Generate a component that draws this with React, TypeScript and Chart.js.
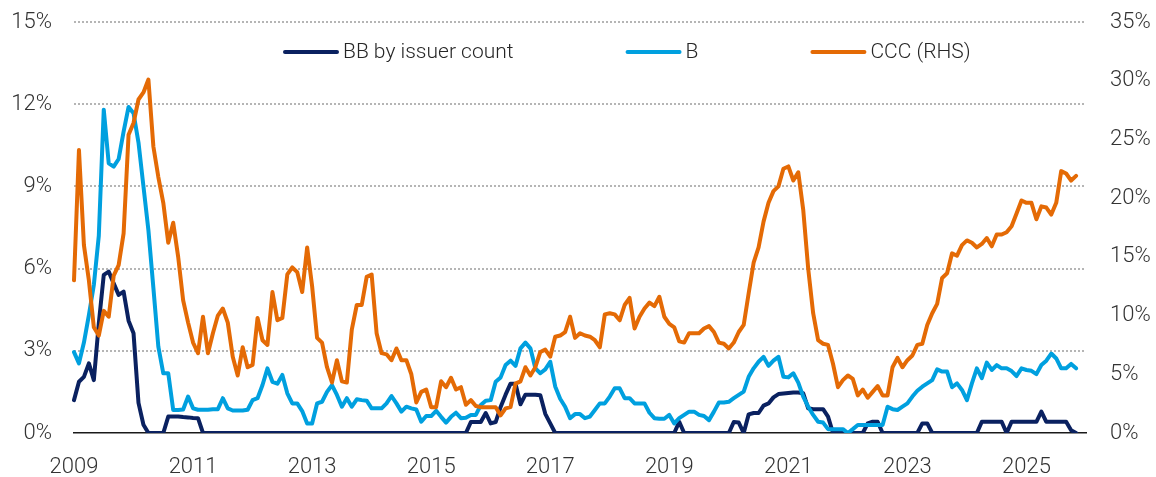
import React, { useEffect, useRef } from 'react';
import { Chart, registerables } from 'chart.js';

Chart.register(...registerables);

// ---- data (monthly, Jan 2009 onwards) ----
const START_YEAR = 2009;
const MONTHS_ON_AXIS = 205; // Jan 2009 .. Jan 2026
const yearTicks = ['2009', '2011', '2013', '2015', '2017', '2019', '2021', '2023', '2025'];

const seriesNames = ['BB by issuer count', 'B', 'CCC (RHS)'];
const seriesColors = ['#0a2160', '#00a0df', '#e46a05'];

const bbByIssuerCount = [
  1.2, 1.87, 2.05, 2.54, 1.93, 4.0, 5.77, 5.89, 5.46, 5.04, 5.16, 4.1,
  3.64, 1.1, 0.3, 0, 0, 0, 0, 0.6, 0.6, 0.6, 0.58, 0.57,
  0.55, 0.54, 0, 0, 0, 0, 0, 0, 0, 0, 0, 0,
  0, 0, 0, 0, 0, 0, 0, 0, 0, 0, 0, 0,
  0, 0, 0, 0, 0, 0, 0, 0, 0, 0, 0, 0,
  0, 0, 0, 0, 0, 0, 0, 0, 0, 0, 0, 0,
  0, 0, 0, 0, 0, 0, 0, 0, 0.4, 0.4, 0.4, 0.73,
  0.35, 0.4, 0.95, 1.4, 1.8, 1.8, 1.05, 1.4, 1.4, 1.4, 1.38, 0.7,
  0.35, 0, 0, 0, 0, 0, 0, 0, 0, 0, 0, 0,
  0, 0, 0, 0, 0, 0, 0, 0, 0, 0, 0, 0,
  0, 0, 0.41, 0, 0, 0, 0, 0, 0, 0, 0, 0,
  0, 0.4, 0.38, 0, 0.68, 0.73, 0.73, 1.0, 1.08, 1.3, 1.42, 1.44,
  1.46, 1.48, 1.48, 1.45, 0.9, 0.87, 0.87, 0.87, 0.6, 0, 0, 0,
  0, 0, 0, 0, 0.35, 0.41, 0.41, 0, 0, 0, 0, 0,
  0, 0, 0, 0.35, 0.35, 0, 0, 0, 0, 0, 0, 0,
  0, 0, 0, 0.41, 0.41, 0.41, 0.41, 0.41, 0, 0.41, 0.41, 0.41,
  0.41, 0.41, 0.41, 0.78, 0.41, 0.41, 0.41, 0.41, 0.41, 0.1, 0,
];

const bRate = [
  2.95, 2.54, 3.3, 4.3, 5.4, 7.2, 11.8, 9.84, 9.72, 10.0, 11.0, 11.9,
  11.67, 10.6, 9.0, 7.4, 5.3, 3.15, 2.18, 2.18, 0.84, 0.84, 0.86, 1.33,
  0.9, 0.85, 0.85, 0.85, 0.87, 0.87, 1.27, 0.9, 0.82, 0.82, 0.82, 0.85,
  1.2, 1.27, 1.75, 2.36, 1.87, 1.8, 2.12, 1.45, 1.08, 1.08, 0.8, 0.35,
  0.35, 1.08, 1.14, 1.5, 1.75, 1.39, 0.96, 1.27, 0.96, 1.23, 1.2, 1.18,
  0.9, 0.9, 0.9, 1.08, 1.35, 1.08, 0.78, 0.96, 0.9, 0.86, 0.41, 0.62,
  0.62, 0.81, 0.59, 0.38, 0.59, 0.74, 0.54, 0.56, 0.66, 0.66, 1.02, 1.18,
  1.2, 1.87, 2.03, 2.48, 2.64, 2.45, 3.09, 3.3, 3.09, 2.36, 2.18, 2.32,
  2.6, 1.7, 1.25, 0.96, 0.54, 0.69, 0.69, 0.54, 0.6, 0.84, 1.08, 1.08,
  1.33, 1.63, 1.63, 1.27, 1.27, 1.08, 1.08, 1.08, 0.74, 0.54, 0.52, 0.52,
  0.66, 0.35, 0.54, 0.66, 0.78, 0.78, 0.66, 0.62, 0.47, 0.78, 1.11, 1.11,
  1.14, 1.27, 1.39, 1.51, 2.05, 2.36, 2.6, 2.78, 2.45, 2.64, 2.78, 2.05,
  2.03, 2.18, 1.84, 1.33, 0.96, 0.66, 0.41, 0.38, 0.14, 0.14, 0.14, 0.14,
  0, 0.14, 0.29, 0.29, 0.29, 0.29, 0.29, 0.29, 0.96, 0.87, 0.84, 0.96,
  1.08, 1.33, 1.54, 1.69, 1.81, 1.93, 2.32, 2.24, 2.24, 1.67, 1.81, 1.57,
  1.2, 1.81, 2.36, 2.0, 2.57, 2.3, 2.48, 2.36, 2.36, 2.26, 2.08, 2.36,
  2.3, 2.27, 2.15, 2.48, 2.64, 2.9, 2.72, 2.36, 2.36, 2.52, 2.36,
];

const cccRate = [
  13.0, 24.1, 16.0, 13.0, 9.0, 8.3, 10.4, 9.9, 13.4, 14.3, 17.0, 25.4,
  26.4, 28.4, 29.0, 30.1, 24.4, 21.8, 19.6, 16.2, 17.9, 15.0, 11.3, 9.4,
  7.7, 6.8, 9.9, 6.8, 8.5, 10.0, 10.6, 9.4, 6.5, 4.9, 7.3, 5.6,
  5.8, 9.8, 7.9, 7.5, 12.0, 9.6, 9.8, 13.5, 14.1, 13.7, 12.0, 15.8,
  12.5, 8.1, 7.7, 5.6, 4.3, 6.2, 4.4, 4.3, 8.8, 10.9, 10.9, 13.3,
  13.5, 8.5, 6.8, 6.7, 6.2, 7.2, 6.2, 6.2, 5.0, 2.6, 3.5, 3.7,
  2.2, 2.2, 4.4, 3.9, 4.7, 3.7, 3.9, 2.4, 2.8, 2.3, 2.2, 2.2,
  2.2, 2.2, 1.5, 2.1, 2.2, 4.2, 4.4, 5.6, 4.9, 5.6, 6.9, 7.1,
  6.5, 8.2, 8.3, 8.6, 9.9, 8.1, 8.5, 8.3, 8.2, 7.9, 7.3, 10.1,
  10.2, 10.1, 9.6, 10.9, 11.5, 8.9, 9.9, 10.6, 11.1, 10.8, 11.6, 9.9,
  9.3, 9.0, 7.8, 7.7, 8.5, 8.5, 8.5, 8.9, 9.1, 8.6, 7.7, 7.6,
  7.2, 7.7, 8.6, 9.2, 11.9, 14.5, 15.8, 18.0, 19.6, 20.6, 21.0, 22.5,
  22.7, 21.5, 22.2, 19.0, 14.0, 10.2, 7.9, 7.6, 7.5, 5.9, 3.9, 4.5,
  4.9, 4.6, 3.2, 3.7, 3.0, 3.5, 4.0, 3.2, 3.2, 5.6, 6.4, 5.6,
  6.2, 6.6, 7.5, 7.6, 9.2, 10.2, 11.0, 13.2, 13.6, 15.3, 15.1, 16.0,
  16.4, 16.2, 15.8, 16.1, 16.6, 15.9, 16.9, 16.9, 17.1, 17.6, 18.7, 19.8,
  19.6, 19.6, 18.2, 19.3, 19.2, 18.6, 19.6, 22.3, 22.1, 21.5, 21.9,
];

const monthLabels = Array.from({ length: MONTHS_ON_AXIS }, (_, i) =>
  `${START_YEAR + Math.floor(i / 12)}-${String((i % 12) + 1).padStart(2, '0')}`
);

const FONT = "Roboto, 'Noto Sans', sans-serif";

const legendPlugin = {
  id: 'insideLegend',
  afterDatasetsDraw(chart: any) {
    const { ctx, chartArea } = chart;
    ctx.save();
    ctx.font = `300 21px ${FONT}`;
    ctx.textBaseline = 'middle';
    ctx.textAlign = 'left';
    const y = chartArea.top + 30;
    let x = chartArea.left + 211;
    chart.data.datasets.forEach((ds: any) => {
      ctx.beginPath();
      ctx.lineCap = 'round';
      ctx.lineWidth = 4;
      ctx.strokeStyle = ds.borderColor;
      ctx.moveTo(x, y);
      ctx.lineTo(x + 52, y);
      ctx.stroke();
      ctx.fillStyle = '#262626';
      ctx.fillText(ds.label, x + 58, y + 1);
      const w = ctx.measureText(ds.label).width;
      x += 58 + w + 114;
    });
    ctx.restore();
  },
};

export default function App() {
  const ref = useRef<HTMLCanvasElement>(null);

  useEffect(() => {
    if (!ref.current) return;
    const mk = (idx: number, data: number[], axis: string, order: number) => ({
      label: seriesNames[idx],
      data,
      yAxisID: axis,
      borderColor: seriesColors[idx],
      backgroundColor: seriesColors[idx],
      borderWidth: 4,
      borderCapStyle: 'round',
      borderJoinStyle: 'round',
      pointRadius: 0,
      pointHoverRadius: 0,
      tension: 0,
      fill: false,
      order,
    });
    const chart = new Chart(ref.current, {
      type: 'line',
      data: {
        labels: monthLabels,
        datasets: [
          mk(0, bbByIssuerCount, 'y', 3),
          mk(1, bRate, 'y', 2),
          mk(2, cccRate, 'y1', 1),
        ] as any,
      },
      options: {
        animation: false,
        responsive: false,
        events: [],
        layout: { padding: { top: 22, left: 0, right: 0, bottom: 0 } },
        plugins: {
          legend: { display: false },
          tooltip: { enabled: false },
          title: { display: false },
        },
        scales: {
          x: {
            type: 'category',
            offset: false,
            grid: { display: false, drawTicks: false },
            border: { display: true, color: '#1a1a1a', width: 1.5 },
            ticks: {
              autoSkip: false,
              maxRotation: 0,
              minRotation: 0,
              padding: 21,
              color: '#333333',
              font: { family: FONT, size: 22, weight: '300' as any },
              callback: function (this: any, value: any) {
                const lab: string = this.getLabelForValue(value);
                const [yy, mm] = lab.split('-');
                return mm === '01' && yearTicks.includes(yy) ? yy : '';
              },
            },
            afterFit: (s: any) => {
              s.height = 44;
            },
          },
          y: {
            type: 'linear',
            position: 'left',
            min: 0,
            max: 15,
            ticks: {
              stepSize: 3,
              padding: 22,
              color: '#333333',
              font: { family: FONT, size: 22, weight: '300' as any },
              callback: (v: any) => `${v}%`,
            },
            grid: {
              drawTicks: false,
              lineWidth: 2,
              color: (c: any) => (c.tick && c.tick.value === 0 ? 'rgba(0,0,0,0)' : '#b5b5b5'),
            },
            border: { display: false, dash: [2, 2] },
            afterFit: (s: any) => {
              s.width = 74;
              s.paddingTop = 0;
              s.paddingBottom = 0;
            },
          },
          y1: {
            type: 'linear',
            position: 'right',
            min: 0,
            max: 35,
            ticks: {
              stepSize: 5,
              padding: 24,
              color: '#333333',
              font: { family: FONT, size: 22, weight: '300' as any },
              callback: (v: any) => `${v}%`,
            },
            grid: { display: false, drawTicks: false, drawOnChartArea: false },
            border: { display: false },
            afterFit: (s: any) => {
              s.width = 70;
              s.paddingTop = 0;
              s.paddingBottom = 0;
            },
          },
        },
      } as any,
      plugins: [legendPlugin],
    });
    return () => chart.destroy();
  }, []);

  return (
    <canvas
      ref={ref}
      width={1156}
      height={477}
      style={{ position: 'fixed', left: 0, top: 0, display: 'block', width: '1156px', height: '477px' }}
    />
  );
}
